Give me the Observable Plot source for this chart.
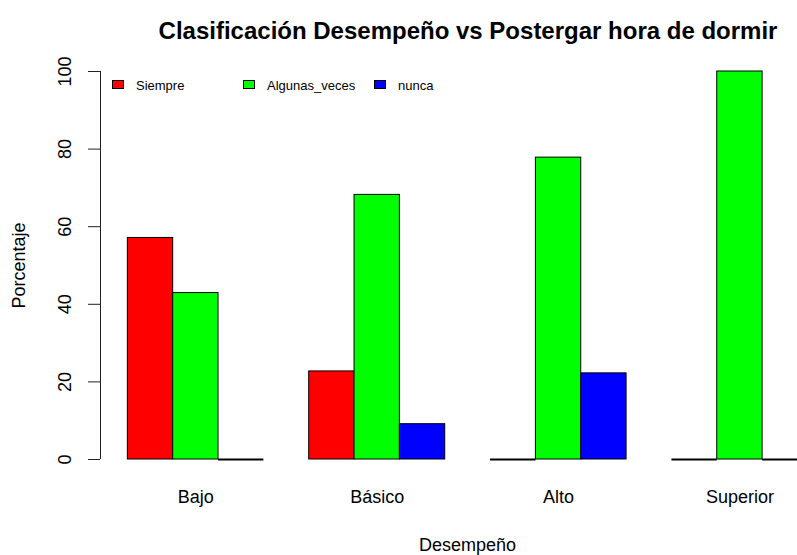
<!DOCTYPE html>
<html>
<head>
<meta charset="utf-8">
<script src="https://cdn.jsdelivr.net/npm/d3@7"></script>
<script src="https://cdn.jsdelivr.net/npm/@observablehq/plot@0.6"></script>
<style>
  html, body { margin: 0; padding: 0; background: #fff; overflow: hidden; }
  #wrap { position: relative; width: 797px; height: 555px; font-family: "Liberation Sans", Arial, sans-serif; }
  .lg-box { position: absolute; width: 10px; height: 7px; border: 1px solid #000; }
  .lg-txt { position: absolute; font-size: 13px; line-height: 13px; color: #000; white-space: nowrap; }
</style>
</head>
<body>
<div id="wrap"></div>
<script>
// ---- data ----
const grupos = ["Bajo", "Básico", "Alto", "Superior"];
const series = ["Siempre", "Algunas_veces", "nunca"];
const colores = ["#FF0000", "#00FF00", "#0000FF"];
const siempre = [57.1, 22.7, 0, 0];
const algunasVeces = [42.9, 68.2, 77.8, 100];
const nunca = [0, 9.1, 22.2, 0];
const yTicks = [0, 20, 40, 60, 80, 100];
const titulo = "Clasificación Desempeño vs Postergar hora de dormir";
const xLabel = "Desempeño";
const yLabel = "Porcentaje";

// ---- build table (R barplot beside=TRUE layout: 1 unit per bar, 1 unit gap) ----
const valores = [siempre, algunasVeces, nunca];
const rows = [];
grupos.forEach((g, gi) => {
  series.forEach((s, si) => {
    const start = 1 + gi * (series.length + 1) + si;
    rows.push({grupo: g, serie: s, valor: valores[si][gi], x1: start, x2: start + 1});
  });
});
const centros = grupos.map((g, gi) => ({grupo: g, x: 1 + gi * (series.length + 1) + series.length / 2}));

const W = 797, H = 555;
const mL = 100, mR = 0, mT = 71, mB = 96;
const unitPx = 45.34, originPx = 82;
const xDomain = [(mL - originPx) / unitPx, (W - mR - originPx) / unitPx];

const font = "Liberation Sans, Arial, sans-serif";

const chart = Plot.plot({
  width: W,
  height: H,
  marginLeft: mL,
  marginRight: mR,
  marginTop: mT,
  marginBottom: mB,
  style: {fontFamily: font, background: "#fff", overflow: "hidden"},
  x: {type: "linear", domain: xDomain, axis: null},
  y: {domain: [0, 100], axis: null},
  color: {domain: series, range: colores},
  marks: [
    Plot.rect(rows.filter(d => d.valor > 0), {
      x1: "x1", x2: "x2", y1: 0, y2: "valor",
      fill: "serie", stroke: "#000", strokeWidth: 1
    }),
    Plot.ruleY(rows.filter(d => d.valor === 0), {
      y: "valor", x1: "x1", x2: "x2", stroke: "#000", strokeWidth: 2
    }),
    Plot.ruleX([xDomain[0]], {y1: 0, y2: 100, stroke: "#222", strokeWidth: 1}),
    Plot.axisY({ticks: yTicks, tickSize: 12, tickFormat: () => "", stroke: "#222", label: null}),
    Plot.text(yTicks, {
      y: d => d, text: d => String(d), frameAnchor: "left", textAnchor: "middle", dx: -35,
      rotate: -90, fontSize: 18, fill: "#000"
    }),
    Plot.text(centros, {
      x: "x", text: "grupo", frameAnchor: "bottom", dy: 43, fontSize: 18, fill: "#000"
    }),
    Plot.text([xLabel], {
      text: d => d, frameAnchor: "bottom", dx: 18.5, dy: 91, fontSize: 18, fill: "#000"
    }),
    Plot.text([yLabel], {
      text: d => d, frameAnchor: "left", textAnchor: "middle", dx: -81, rotate: -90, fontSize: 18, fill: "#000"
    }),
    Plot.text([titulo], {
      text: d => d, frameAnchor: "top", dx: 19, dy: -50, fontSize: 24, fontWeight: "bold", fill: "#000"
    })
  ]
});

const wrap = document.getElementById("wrap");
wrap.appendChild(chart);

// ---- legend (R-style, inside the plot area) ----
const legendPos = [{box: 112, txt: 136}, {box: 243, txt: 267}, {box: 374, txt: 398}];
series.forEach((s, i) => {
  const b = document.createElement("div");
  b.className = "lg-box";
  b.style.left = legendPos[i].box + "px";
  b.style.top = "80px";
  b.style.background = colores[i];
  wrap.appendChild(b);
  const t = document.createElement("div");
  t.className = "lg-txt";
  t.style.left = legendPos[i].txt + "px";
  t.style.top = "79px";
  t.textContent = s;
  wrap.appendChild(t);
});
</script>
</body>
</html>
